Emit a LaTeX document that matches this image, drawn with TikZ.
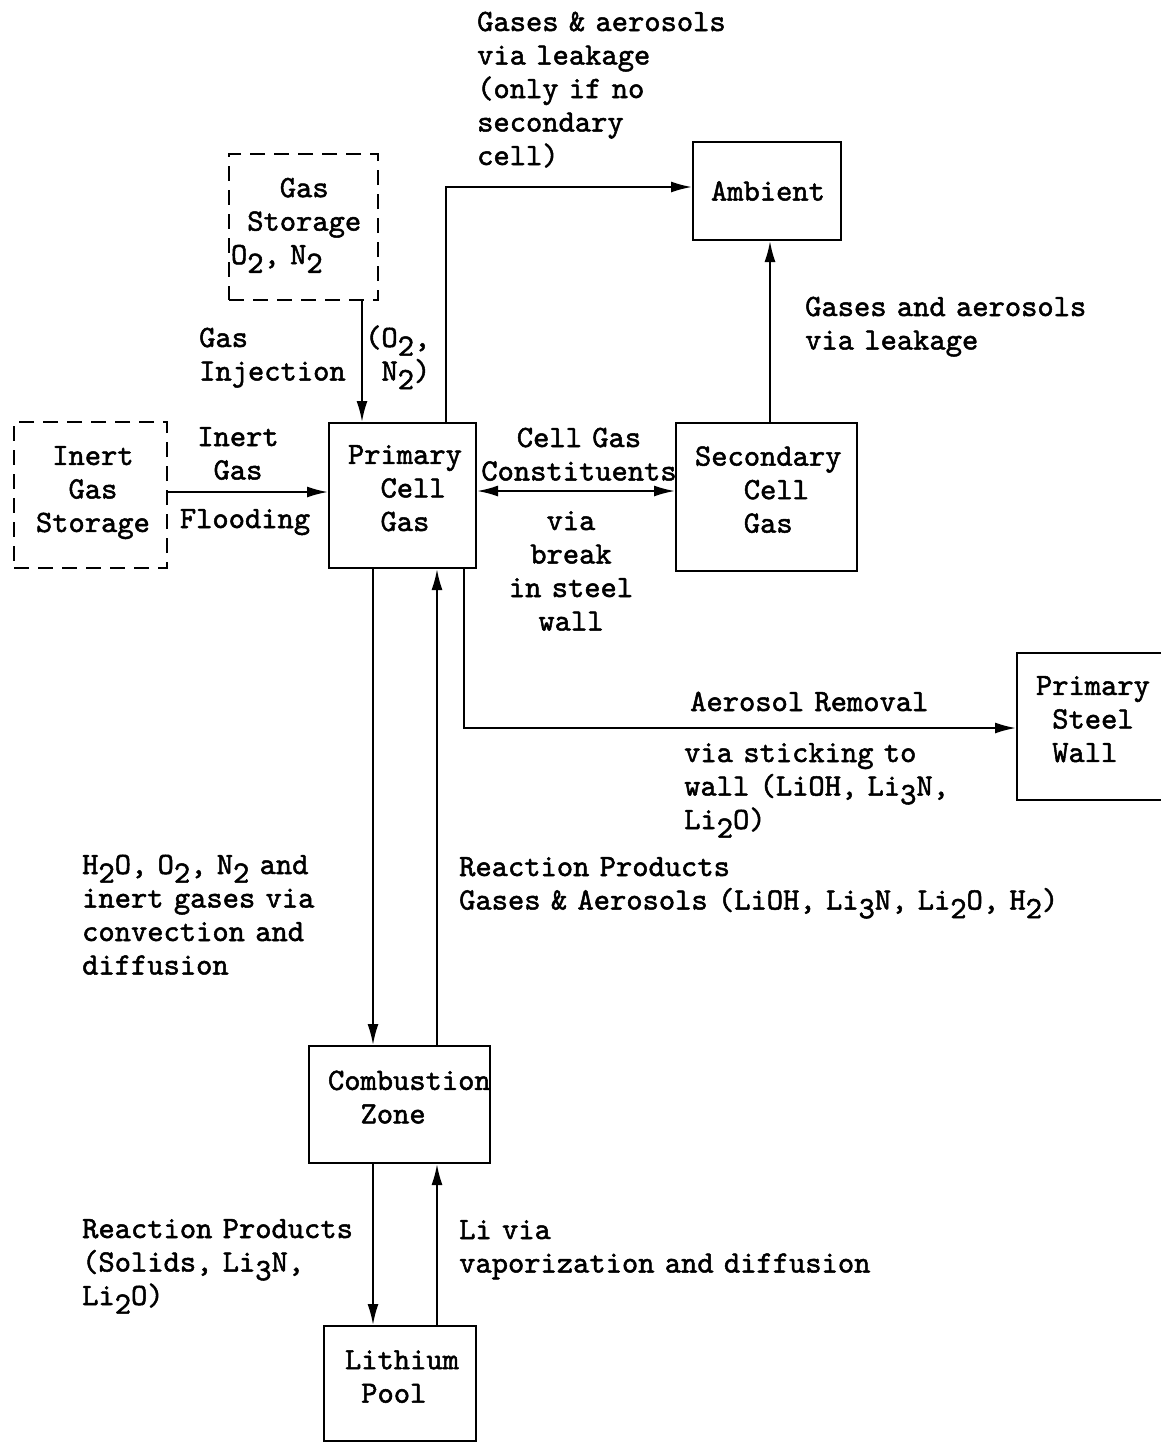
\documentclass[tikz,border=0pt]{standalone}
\usepackage{fontspec}
\setmonofont{lmmono10-regular}[Extension=.otf, FakeBold=1.6]
\usetikzlibrary{arrows.meta}
\newcommand\lo[1]{\raisebox{-0.28em}{#1}}
\newcommand\vdp[1]{\rule[-#1]{0pt}{#1}}
\tikzset{
  txt/.style={font=\fontsize{31}{33.5}\selectfont\ttfamily, inner sep=0pt},
  box/.style={draw, line width=2pt, txt, align=left},
  dbox/.style={box, dash pattern=on 15pt off 9pt},
  lblL/.style={txt, text width=700pt, align=left, anchor=base west},
  lblC/.style={txt, text width=300pt, align=center, anchor=base},
  arr/.style={line width=2pt, -{Latex[length=21pt,width=11pt]}},
  arrb/.style={line width=2pt, {Latex[length=21pt,width=11pt]}-{Latex[length=21pt,width=11pt]}}
}
\begin{document}
\begin{tikzpicture}[x=1pt,y=-1pt]
\useasboundingbox[fill=white] (0,0) rectangle (1161,1444);
% boxes
\node[dbox, minimum width=149pt, minimum height=146pt, text width=145pt] (gasst) at (303.5,227) {\phantom{xxx}Gas\\\phantom{x}Storage\\O\lo{2}, N\lo{2}\vdp{12pt}};
\node[dbox, minimum width=153pt, minimum height=146pt, text width=109pt] (inert) at (90.5,495) {\phantom{x}Inert\\\phantom{xx}Gas\\Storage\vdp{12pt}};
\node[box, minimum width=147pt, minimum height=145pt, text width=109pt] (prim) at (402.5,495.5) {Primary\\\phantom{xx}Cell\\\phantom{xx}Gas\vdp{15pt}};
\node[box, minimum width=181pt, minimum height=148pt, text width=143pt] (sec) at (766.5,497) {Secondary\\\phantom{xxx}Cell\\\phantom{xxx}Gas\vdp{15pt}};
\node[box, minimum width=148pt, minimum height=98pt, text width=112pt] (amb) at (767,191) {Ambient};
\node[box, minimum width=154pt, minimum height=147pt, text width=116pt] (wall) at (1094,726.5) {Primary\\\phantom{x}Steel\\\phantom{x}Wall\vdp{15pt}};
\node[box, minimum width=181pt, minimum height=117pt, text width=143pt] (comb) at (399.5,1104.5) {Combustion\\\phantom{xx}Zone\vdp{15pt}};
\node[box, minimum width=152pt, minimum height=115pt, text width=110pt] (pool) at (400,1383.5) {Lithium\\\phantom{x}Pool\vdp{14pt}};
% connectors
\draw[arr] (gasst.south -| 362,0) -- (prim.north -| 362,0);
\draw[arr] (inert.east |- 0,492) -- (prim.west |- 0,492);
\draw[arrb] (prim.east |- 0,491) -- (sec.west |- 0,491);
\draw[arr] (prim.north -| 446,0) |- (amb.west |- 0,187);
\draw[arr] (sec.north -| 770,0) -- (amb.south -| 770,0);
\draw[arr] (prim.south -| 464,0) |- (wall.west |- 0,728);
\draw[arr] (prim.south -| 373,0) -- (comb.north -| 373,0);
\draw[arr] (comb.north -| 437,0) -- (prim.south -| 437,0);
\draw[arr] (comb.south -| 373,0) -- (pool.north -| 373,0);
\draw[arr] (pool.north -| 437,0) -- (comb.south -| 437,0);
% labels
\node[lblL] (lamb) at (477,31) {Gases \& aerosols\\via leakage\\(only if no\\secondary\\cell)};
\node[lblL] (linj) at (199,347) {Gas\\Injection};
\node[lblL] (lo2) at (365,347) {(O\lo{2},\\\phantom{x}N\lo{2})};
\node[lblC] (lfl1) at (238,446) {Inert\\Gas};
\node[lblC] (lfl2) at (245,528) {Flooding};
\node[lblC] (lcgc) at (579,447) {Cell Gas\\Constituents};
\node[lblC] (lbrk) at (571,530) {via\\break\\in steel\\wall};
\node[lblL] (lsec) at (805,316) {Gases and aerosols\\via leakage};
\node[lblL] (laer) at (690,711) {Aerosol Removal};
\node[lblL] (lstk) at (684,762) {via sticking to\\wall (LiOH, Li\lo{3}N,\\Li\lo{2}O)};
\node[lblL] (lconv) at (82,874) {H\lo{2}O, O\lo{2}, N\lo{2} and\\inert gases via\\convection and\\diffusion};
\node[lblL] (lrp) at (459,876) {Reaction Products\\Gases \& Aerosols (LiOH, Li\lo{3}N, Li\lo{2}O, H\lo{2})};
\node[lblL] (lsol) at (82,1238) {Reaction Products\\(Solids, Li\lo{3}N,\\Li\lo{2}O)};
\node[lblL] (lli) at (459,1239) {Li via\\vaporization and diffusion};
\end{tikzpicture}
\end{document}
